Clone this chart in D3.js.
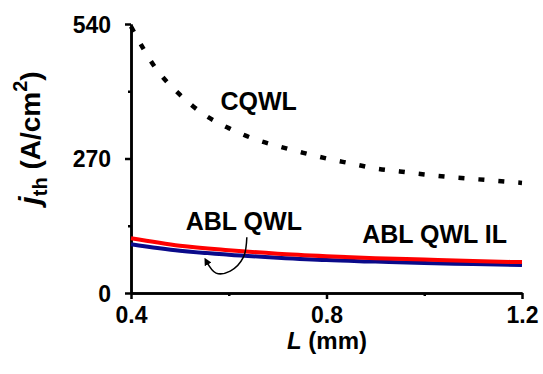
<!DOCTYPE html>
<html><head><meta charset="utf-8">
<script src="https://cdn.jsdelivr.net/npm/d3@7"></script>
<style>
html,body{margin:0;padding:0;background:#fff;}
text{font-family:"Liberation Sans",Arial,sans-serif;font-weight:bold;fill:#000;}
</style></head>
<body><svg id="c" width="543" height="374"></svg>
<script>
// Data
const lengths = [0.40,0.45,0.50,0.55,0.60,0.65,0.70,0.75,0.80,0.85,0.90,0.95,1.00,1.05,1.10,1.15,1.20];
const cqwl    = [535, 452, 398, 358, 331, 310, 295, 282, 270, 260, 250, 244, 238, 233, 229, 225, 221];
const lengthsABL = [0.4,0.5,0.6,0.7,0.8,0.9,1.0,1.1,1.2];
const ablQwlIL = [110, 95, 86, 79, 74, 70, 67, 64, 62];
const ablQwl   = [98, 85, 77, 71, 66, 63, 60, 58, 56];
const xMajor = [0.4, 0.8, 1.2];
const xMinor = [0.6, 1.0];
const yMajor = [0, 270, 540];
const yMinor = [135, 405];
const labels = [
  {text:"CQWL", L:0.583, v:368},
  {text:"ABL QWL", L:0.512, v:127},
  {text:"ABL QWL IL", L:0.873, v:101}
];
const arrowPts = [[0.637,112],[0.630,72],[0.603,44],[0.574,40],[0.554,64]];

const svg = d3.select("#c");
const x = d3.scaleLinear().domain([0.4,1.2]).range([131,522]);
const y = d3.scaleLinear().domain([0,540]).range([293,24]);

// axes
const gx = svg.append("g").attr("transform","translate(0,293)");
gx.call(d3.axisBottom(x).tickValues(xMajor).tickSize(6).tickSizeOuter(0).tickFormat(d3.format(".1f")));
const gxm = svg.append("g").attr("transform","translate(0,293)");
gxm.call(d3.axisBottom(x).tickValues(xMinor).tickSize(3).tickSizeOuter(0).tickFormat(""));
const gy = svg.append("g").attr("transform","translate(131,0)");
gy.call(d3.axisLeft(y).tickValues(yMajor).tickSize(6).tickSizeOuter(0).tickFormat(d3.format("d")));
const gym = svg.append("g").attr("transform","translate(131,0)");
gym.call(d3.axisLeft(y).tickValues(yMinor).tickSize(3).tickSizeOuter(0).tickFormat(""));
[gx,gxm,gy,gym].forEach(g=>{
  g.selectAll(".domain").attr("stroke","#000").attr("stroke-width",2.5);
  g.selectAll(".tick line").attr("stroke","#000").attr("stroke-width",2.5);
  g.selectAll(".tick text").style("font-size","23px").style("font-family","'Liberation Sans',Arial,sans-serif").style("font-weight","bold").attr("fill","#000");
});
gx.selectAll(".tick text").attr("dy","0.71em").attr("y",14);
gy.selectAll(".tick text").attr("x",-20).attr("dy","0.36em");

// lines
const line = d3.line().x(d=>x(d[0])).y(d=>y(d[1])).curve(d3.curveMonotoneX);
svg.append("path").datum(lengths.map((L,i)=>[L,cqwl[i]]))
  .attr("d",line).attr("fill","none").attr("stroke","#000")
  .attr("stroke-width",4.5).attr("stroke-dasharray","6,14");
svg.append("path").datum(lengthsABL.map((L,i)=>[L,ablQwl[i]]))
  .attr("d",line).attr("fill","none").attr("stroke","#0a0a8a").attr("stroke-width",4);
svg.append("path").datum(lengthsABL.map((L,i)=>[L,ablQwlIL[i]]))
  .attr("d",line).attr("fill","none").attr("stroke","#ff0000").attr("stroke-width",4);

// labels
svg.selectAll("text.lbl").data(labels).enter().append("text").attr("class","lbl")
  .attr("x",d=>x(d.L)).attr("y",d=>y(d.v)).style("font-size","25px").text(d=>d.text);

// arrow annotation
svg.append("defs").append("marker").attr("id","ah").attr("viewBox","0 0 10 10")
  .attr("refX",5).attr("refY",5).attr("markerWidth",5).attr("markerHeight",5)
  .attr("orient","auto").append("path").attr("d","M0,0L10,5L0,10z").attr("fill","#000");
svg.append("path").datum(arrowPts)
  .attr("d",d3.line().x(d=>x(d[0])).y(d=>y(d[1])).curve(d3.curveCatmullRom))
  .attr("fill","none").attr("stroke","#000").attr("stroke-width",1.5).attr("marker-end","url(#ah)");

// axis titles
const yt = svg.append("text").attr("transform","translate(40,138) rotate(-90)")
  .attr("text-anchor","middle").style("font-size","28px");
yt.append("tspan").style("font-style","italic").style("font-size","30px").text("j");
yt.append("tspan").attr("dy",7).style("font-size","20px").text("th");
yt.append("tspan").attr("dy",-7).text(" (A/cm");
yt.append("tspan").attr("dy",-13).style("font-size","20px").text("2");
yt.append("tspan").attr("dy",13).text(")");

const xt = svg.append("text").attr("x",327).attr("y",349).attr("text-anchor","middle").style("font-size","24px");
xt.append("tspan").style("font-style","italic").text("L");
xt.append("tspan").text(" (mm)");
</script></body></html>
